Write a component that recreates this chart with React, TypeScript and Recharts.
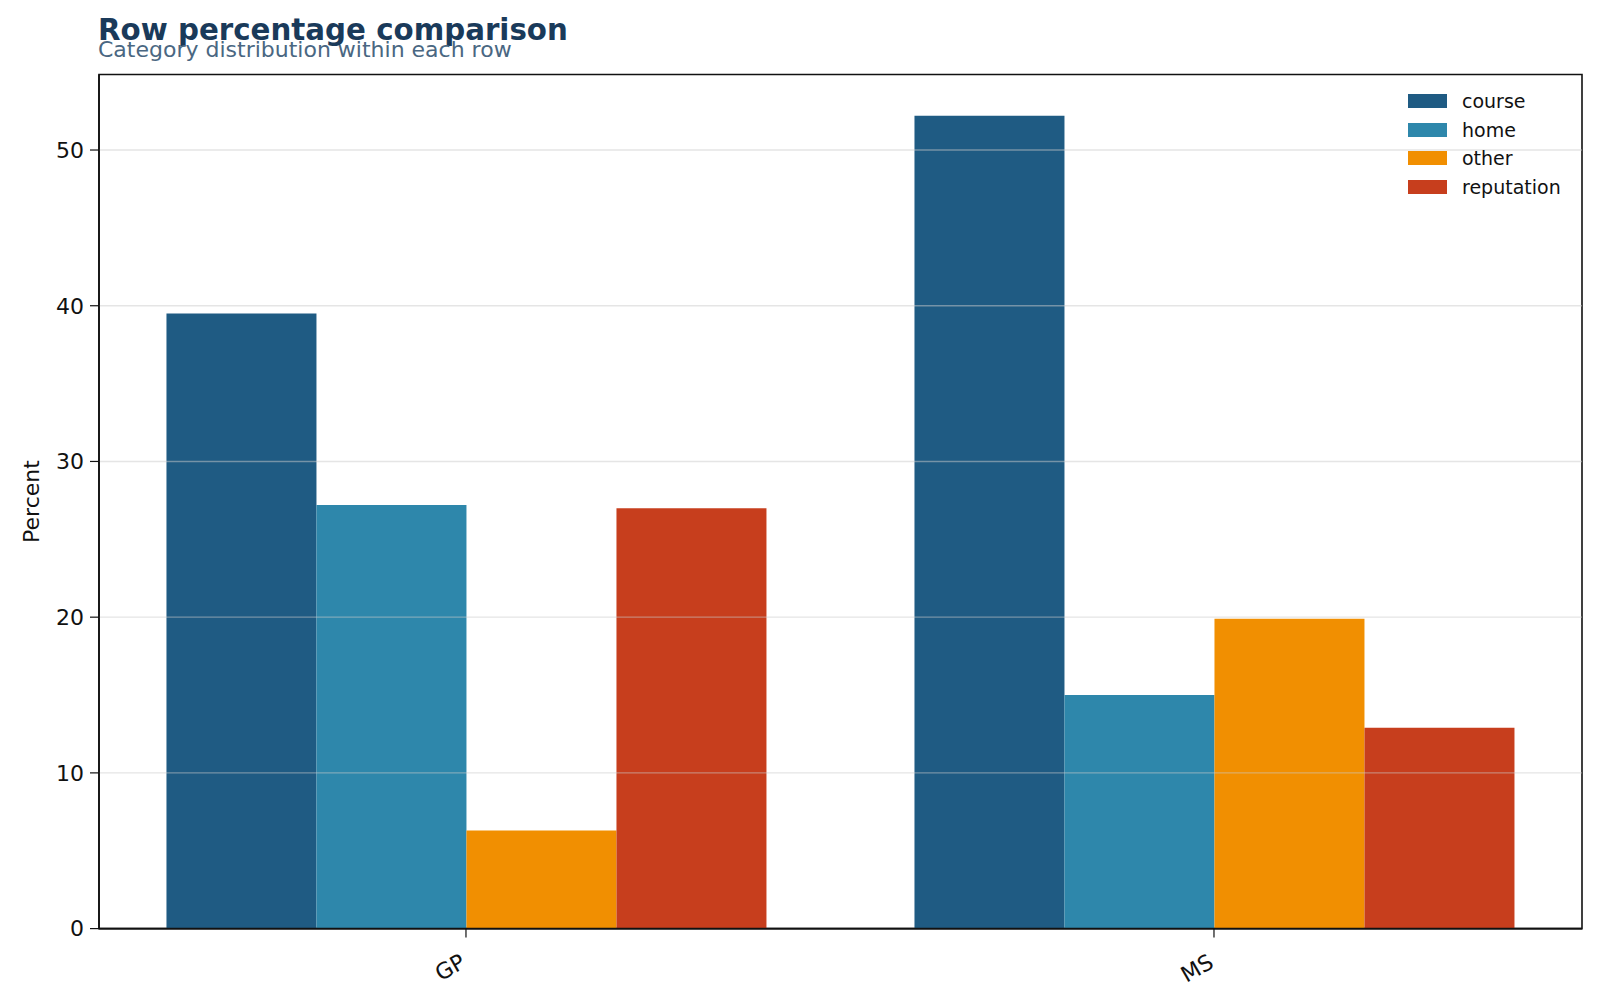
import {
  BarChart,
  Bar,
  XAxis,
  YAxis,
  ReferenceLine,
  ReferenceArea,
} from 'recharts'

const schools = ['GP', 'MS']
const course = [39.5, 52.2]
const home = [27.2, 15.0]
const other = [6.3, 19.9]
const reputation = [27.0, 12.9]
const yTicks = [0, 10, 20, 30, 40, 50]
const gridTicks = [10, 20, 30, 40, 50]

const seriesNames = ['course', 'home', 'other', 'reputation']
const seriesColors = ['#1f5b83', '#2e87ab', '#f18f01', '#c73e1d']

const data = schools.map((school, i) => ({
  idx: i,
  school,
  course: course[i],
  home: home[i],
  other: other[i],
  reputation: reputation[i],
}))

const FONT = '"DejaVu Sans", sans-serif'
const Y_MAX = 54.85
const X_DOMAIN = [-0.4906, 1.492]

const RotatedTick = (props: any) => {
  const { x, y, payload } = props
  return (
    <g transform={`translate(${x},${y + 9})`}>
      <text
        transform="rotate(-30)"
        textAnchor="end"
        dominantBaseline="hanging"
        fontSize={22}
        fill="#111"
        fontFamily={FONT}
        x={-8}
        y={0}
      >
        {schools[payload.value]}
      </text>
    </g>
  )
}

function ChartLegend() {
  return (
    <div
      style={{
        position: 'absolute',
        left: 1408,
        top: 87,
        fontFamily: FONT,
        fontSize: 19,
        color: '#111',
      }}
    >
      {seriesNames.map((name, i) => (
        <div
          key={name}
          style={{ display: 'flex', alignItems: 'center', height: 28.6 }}
        >
          <span
            style={{
              display: 'inline-block',
              width: 39,
              height: 14,
              background: seriesColors[i],
              marginRight: 15,
            }}
          />
          <span>{name}</span>
        </div>
      ))}
    </div>
  )
}

export default function App() {
  return (
    <div
      style={{
        position: 'absolute',
        left: 0,
        top: 0,
        width: 1600,
        height: 1000,
        background: '#fff',
        fontFamily: FONT,
      }}
    >
      <div
        style={{
          position: 'absolute',
          left: 98,
          top: 13,
          fontSize: 29.3,
          fontWeight: 'bold',
          color: '#1a3a5a',
          lineHeight: '34px',
        }}
      >
        Row percentage comparison
      </div>
      <div
        style={{
          position: 'absolute',
          left: 98,
          top: 37,
          fontSize: 22,
          color: '#4a6782',
          lineHeight: '26px',
        }}
      >
        Category distribution within each row
      </div>
      <BarChart
        width={1600}
        height={1000}
        data={data}
        margin={{ top: 74.5, right: 18, bottom: 41.4, left: 39 }}
        barCategoryGap={74.5}
        barGap={0}
      >
        <XAxis
          dataKey="idx"
          type="number"
          domain={X_DOMAIN}
          allowDataOverflow
          ticks={[0, 1]}
          height={30}
          axisLine={{ stroke: '#111', strokeWidth: 1.6 }}
          tickLine={{ stroke: '#111', strokeWidth: 1.2 }}
          tickSize={9}
          tick={<RotatedTick />}
          interval={0}
        />
        <YAxis
          width={60}
          domain={[0, Y_MAX]}
          ticks={yTicks}
          allowDataOverflow
          axisLine={{ stroke: '#111', strokeWidth: 1.6 }}
          tickLine={{ stroke: '#111', strokeWidth: 1.2 }}
          tickSize={9}
          tickMargin={6}
          tick={{ fontSize: 22, fill: '#111', fontFamily: FONT }}
          label={{
            value: 'Percent',
            angle: -90,
            position: 'insideLeft',
            offset: -8,
            style: {
              fontSize: 22,
              fill: '#111',
              fontFamily: FONT,
              textAnchor: 'middle',
            },
          }}
        />
        {seriesNames.map((name, i) => (
          <Bar
            key={name}
            dataKey={name}
            name={name}
            fill={seriesColors[i]}
            isAnimationActive={false}
          />
        ))}
        {gridTicks.map((t) => (
          <ReferenceLine
            key={t}
            y={t}
            stroke="#cccccc"
            strokeOpacity={0.5}
            strokeWidth={1.4}
          />
        ))}
        <ReferenceArea
          y1={0}
          y2={Y_MAX}
          fill="none"
          fillOpacity={0}
          stroke="#111"
          strokeWidth={1.6}
        />
      </BarChart>
      <ChartLegend />
    </div>
  )
}
